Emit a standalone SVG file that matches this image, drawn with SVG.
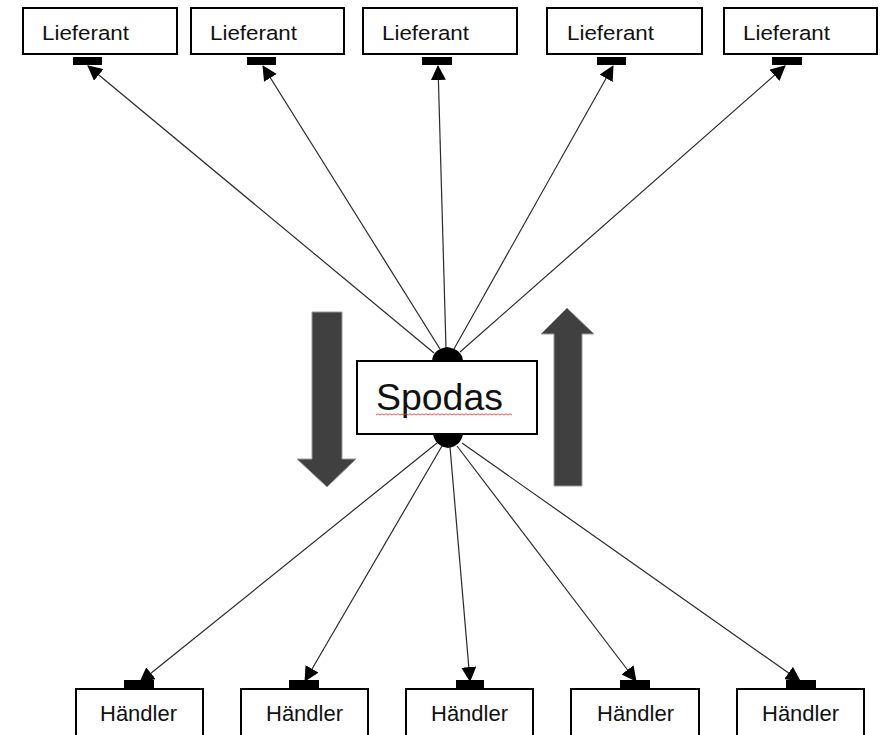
<svg xmlns="http://www.w3.org/2000/svg" width="887" height="735" viewBox="0 0 887 735">
  <defs>
    <marker id="ah" viewBox="0 0 15 15" markerWidth="15" markerHeight="15" refX="14" refY="7.5" orient="auto" markerUnits="userSpaceOnUse">
      <path d="M0,0 L15,7.5 L0,15 Z" fill="#000"/>
    </marker>
    <style>
      .box { fill: #fff; stroke: #000; stroke-width: 2; }
      .tab { fill: #000; }
      .lbl { font-family: "Liberation Sans", Arial, sans-serif; fill: #111; }
      .conn { stroke: #2a2a2a; stroke-width: 1.2; fill: none; marker-end: url(#ah); }
      .big { fill: #404040; stroke: #9a9a9a; stroke-width: 1; }
    </style>
  </defs>
  <rect width="887" height="735" fill="#fff"/>

  <!-- Lieferant nodes -->
  <g id="lieferant1">
    <rect class="box" x="23" y="8" width="154" height="46"/>
    <rect class="tab" x="73" y="57" width="29" height="8"/>
    <text class="lbl" x="42" y="40" font-size="20.5" textLength="87" lengthAdjust="spacingAndGlyphs">Lieferant</text>
  </g>
  <g id="lieferant2">
    <rect class="box" x="191" y="8" width="153" height="46"/>
    <rect class="tab" x="247" y="57" width="29" height="8"/>
    <text class="lbl" x="210" y="40" font-size="20.5" textLength="87" lengthAdjust="spacingAndGlyphs">Lieferant</text>
  </g>
  <g id="lieferant3">
    <rect class="box" x="363" y="8" width="154" height="46"/>
    <rect class="tab" x="422" y="57" width="30" height="8"/>
    <text class="lbl" x="382" y="40" font-size="20.5" textLength="87" lengthAdjust="spacingAndGlyphs">Lieferant</text>
  </g>
  <g id="lieferant4">
    <rect class="box" x="547" y="8" width="155" height="46"/>
    <rect class="tab" x="597" y="57" width="29" height="8"/>
    <text class="lbl" x="567" y="40" font-size="20.5" textLength="87" lengthAdjust="spacingAndGlyphs">Lieferant</text>
  </g>
  <g id="lieferant5">
    <rect class="box" x="724" y="8" width="153" height="46"/>
    <rect class="tab" x="772" y="57" width="30" height="8"/>
    <text class="lbl" x="743" y="40" font-size="20.5" textLength="87" lengthAdjust="spacingAndGlyphs">Lieferant</text>
  </g>

  <!-- Spodas node -->
  <g id="spodas">
    <path d="M432,361 Q433,349 447,347 Q462,349 463,361 Z" fill="#000"/>
    <path d="M433,434 L463,434 Q461,446 448,448 Q435,446 433,434 Z" fill="#000"/>
    <rect class="box" x="357" y="361" width="180" height="73"/>
    <text class="lbl" x="376" y="410" font-size="37" textLength="127" lengthAdjust="spacingAndGlyphs">Spodas</text>
    <path d="M376,415 l2,-1.2 l2,1.2 l2,-1.2 l2,1.2 l2,-1.2 l2,1.2 l2,-1.2 l2,1.2 l2,-1.2 l2,1.2 l2,-1.2 l2,1.2 l2,-1.2 l2,1.2 l2,-1.2 l2,1.2 l2,-1.2 l2,1.2 l2,-1.2 l2,1.2 l2,-1.2 l2,1.2 l2,-1.2 l2,1.2 l2,-1.2 l2,1.2 l2,-1.2 l2,1.2 l2,-1.2 l2,1.2 l2,-1.2 l2,1.2 l2,-1.2 l2,1.2 l2,-1.2 l2,1.2 l2,-1.2 l2,1.2 l2,-1.2 l2,1.2 l2,-1.2 l2,1.2 l2,-1.2 l2,1.2 l2,-1.2 l2,1.2 l2,-1.2 l2,1.2 l2,-1.2 l2,1.2 l2,-1.2 l2,1.2 l2,-1.2 l2,1.2 l2,-1.2 l2,1.2 l2,-1.2 l2,1.2 l2,-1.2 l2,1.2 l2,-1.2 l2,1.2 l2,-1.2 l2,1.2 l2,-1.2 l2,1.2 l2,-1.2 l2,1.2" fill="none" stroke="#e03030" stroke-width="0.8"/>
  </g>

  <!-- Händler nodes -->
  <g id="haendler1">
    <rect class="box" x="76" y="689" width="127" height="60"/>
    <rect class="tab" x="124" y="680" width="30" height="9"/>
    <text class="lbl" x="100" y="721" font-size="22" textLength="77" lengthAdjust="spacingAndGlyphs">Händler</text>
  </g>
  <g id="haendler2">
    <rect class="box" x="241" y="689" width="127" height="60"/>
    <rect class="tab" x="289" y="680" width="30" height="9"/>
    <text class="lbl" x="266" y="721" font-size="22" textLength="77" lengthAdjust="spacingAndGlyphs">Händler</text>
  </g>
  <g id="haendler3">
    <rect class="box" x="406" y="689" width="127" height="60"/>
    <rect class="tab" x="456" y="680" width="28" height="9"/>
    <text class="lbl" x="431" y="721" font-size="22" textLength="77" lengthAdjust="spacingAndGlyphs">Händler</text>
  </g>
  <g id="haendler4">
    <rect class="box" x="571" y="689" width="128" height="60"/>
    <rect class="tab" x="620" y="680" width="30" height="9"/>
    <text class="lbl" x="597" y="721" font-size="22" textLength="77" lengthAdjust="spacingAndGlyphs">Händler</text>
  </g>
  <g id="haendler5">
    <rect class="box" x="737" y="689" width="127" height="60"/>
    <rect class="tab" x="786" y="680" width="30" height="9"/>
    <text class="lbl" x="762" y="721" font-size="22" textLength="77" lengthAdjust="spacingAndGlyphs">Händler</text>
  </g>

  <!-- Flow block arrows -->
  <g id="flow-down">
    <polygon class="big" points="312,312 342,312 342,459 356,459 327,487 297,459 312,459"/>
  </g>
  <g id="flow-up">
    <polygon class="big" points="567,308 594,334 582,334 582,486 554,486 554,334 541,334"/>
  </g>

  <!-- Connectors -->
  <g id="connectors">
    <line class="conn" x1="434" y1="353" x2="88" y2="66"/>
    <line class="conn" x1="440" y1="349" x2="263" y2="66"/>
    <line class="conn" x1="446" y1="348" x2="438" y2="66"/>
    <line class="conn" x1="454" y1="349" x2="613" y2="66"/>
    <line class="conn" x1="460" y1="352" x2="785" y2="66"/>
    <line class="conn" x1="437" y1="443" x2="140" y2="682"/>
    <line class="conn" x1="442" y1="446" x2="305" y2="681"/>
    <line class="conn" x1="450" y1="447" x2="470" y2="681"/>
    <line class="conn" x1="457" y1="446" x2="636" y2="681"/>
    <line class="conn" x1="462" y1="443" x2="800" y2="681"/>
  </g>
</svg>
